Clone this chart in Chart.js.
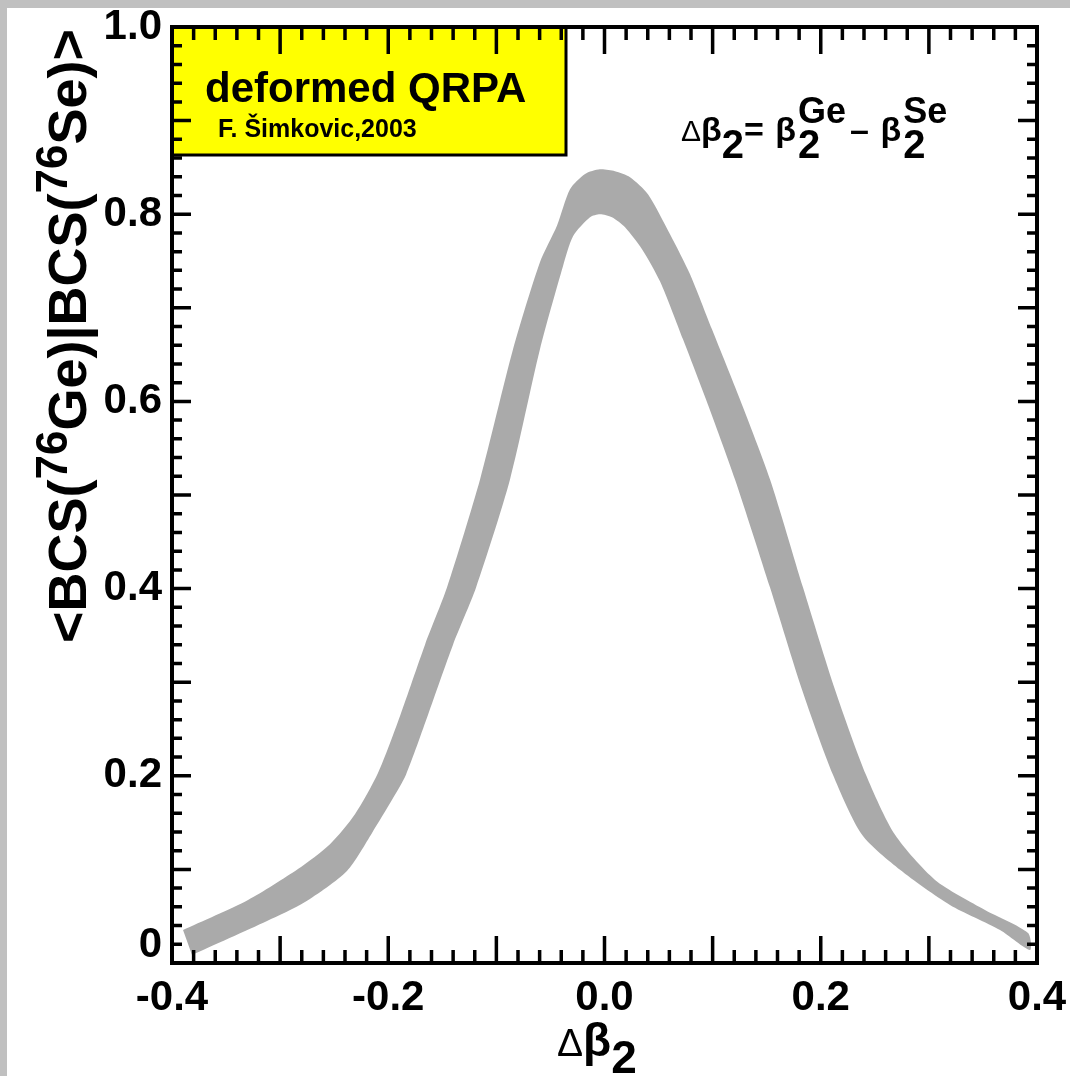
<!DOCTYPE html>
<html><head><meta charset="utf-8">
<script src="https://cdn.jsdelivr.net/npm/chart.js@4/dist/chart.umd.min.js"></script>
<style>html,body{margin:0;padding:0;background:#fff;overflow:hidden}</style>
</head><body>
<canvas id="c" width="1070" height="1076"></canvas>
<script>
// ---- data ----
// outer (upper) edge of the band, left -> right
const outerX = [-0.3898,-0.3297,-0.2835,-0.2539,-0.2308,-0.2095,-0.1891,-0.1660,-0.1457,-0.1151,-0.0846,-0.0597,-0.0439,-0.0319,-0.0180,-0.0042,0.0097,0.0236,0.0402,0.0606,0.0791,0.0994,0.1253,0.1531,0.1836,0.2132,0.2418,0.2687,0.3057,0.3519,0.3917];
const outerY = [0.0353,0.0674,0.1005,0.1270,0.1590,0.2030,0.2640,0.3401,0.4011,0.5166,0.6556,0.7487,0.7880,0.8267,0.8430,0.8480,0.8460,0.8396,0.8214,0.7786,0.7358,0.6770,0.6021,0.5166,0.4011,0.2920,0.2011,0.1369,0.0888,0.0567,0.0321];
// inner (lower) edge of the band, left -> right
const innerX = [-0.3815,-0.3121,-0.2770,-0.2382,-0.2150,-0.1965,-0.1836,-0.1632,-0.1401,-0.1188,-0.0874,-0.0597,-0.0384,-0.0291,-0.0134,-0.0042,0.0069,0.0190,0.0347,0.0513,0.0726,0.0939,0.1207,0.1531,0.1827,0.2113,0.2382,0.2733,0.3195,0.3658,0.3935];
const innerY = [0.0086,0.0449,0.0652,0.0984,0.1390,0.1743,0.2011,0.2652,0.3401,0.4011,0.5166,0.6556,0.7444,0.7765,0.7968,0.8000,0.7968,0.7861,0.7626,0.7283,0.6663,0.6021,0.5166,0.4011,0.2920,0.2011,0.1369,0.0995,0.0620,0.0353,0.0139];
const xTickValues = [-0.4,-0.2,0.0,0.2,0.4];
const xTickLabels = ['-0.4','-0.2','0.0','0.2','0.4'];
const yTickValues = [0,0.2,0.4,0.6,0.8,1.0];
const yTickLabels = ['0','0.2','0.4','0.6','0.8','1.0'];

// closed band outline: outer edge left->right, inner edge right->left
const band = [];
outerX.forEach((x,i)=>band.push({x:x,y:outerY[i]}));
for(let i=innerX.length-1;i>=0;i--) band.push({x:innerX[i],y:innerY[i]});

const F = '"Liberation Sans", Arial, sans-serif';

function drawRuns(ctx, x, y, items){
  for(const it of items){
    if(it.stack){
      ctx.font = it.subFont; const w1 = ctx.measureText(it.sub).width; ctx.fillText(it.sub, x, y+it.subDy);
      ctx.font = it.supFont; const w2 = ctx.measureText(it.sup).width; ctx.fillText(it.sup, x, y+it.supDy);
      x += Math.max(w1,w2);
    } else {
      ctx.font = it.font; ctx.fillText(it.t, x, y+(it.dy||0)); x += ctx.measureText(it.t).width;
    }
    x += (it.gap||0);
  }
  return x;
}
function runsWidth(ctx, items){
  let w=0;
  for(const it of items){ ctx.font = it.font; w += ctx.measureText(it.t).width; }
  return w;
}

const decor = {
  id:'decor',
  beforeDraw(chart){
    const ctx = chart.ctx;
    ctx.save();
    ctx.fillStyle='#ffffff'; ctx.fillRect(0,0,chart.width,chart.height);
    ctx.fillStyle='#c0c0c0'; ctx.fillRect(0,0,chart.width,8); ctx.fillRect(0,0,7,chart.height);
    ctx.restore();
  },
  beforeDatasetsDraw(chart){
    const ctx = chart.ctx, a = chart.chartArea;
    ctx.save();
    ctx.fillStyle='#ffff00';
    ctx.fillRect(a.left, a.top, 566-a.left, 155-a.top);
    ctx.restore();
  },
  afterDatasetsDraw(chart){
    const ctx = chart.ctx, a = chart.chartArea;
    const xs = chart.scales.x, ys = chart.scales.y;
    ctx.save();
    ctx.strokeStyle='#000'; ctx.lineCap='butt';
    ctx.lineWidth=3;
    ctx.strokeRect(a.left, a.top, 566-a.left, 155-a.top);
    ctx.lineWidth=3.5;
    ctx.beginPath();
    for(let k=-20;k<=20;k++){
      const px=xs.getPixelForValue(k/50);
      const L = (k%5===0)?27:13;
      ctx.moveTo(px,a.bottom); ctx.lineTo(px,a.bottom-L);
      ctx.moveTo(px,a.top); ctx.lineTo(px,a.top+L);
    }
    for(let k=0;k<=50;k++){
      const py=ys.getPixelForValue(k/50);
      const L = (k%5===0)?19:10;
      ctx.moveTo(a.left,py); ctx.lineTo(a.left+L,py);
      ctx.moveTo(a.right,py); ctx.lineTo(a.right-L,py);
    }
    ctx.stroke();
    ctx.lineWidth=4;
    ctx.strokeRect(a.left, a.top, a.right-a.left, a.bottom-a.top);

    ctx.fillStyle='#000'; ctx.textBaseline='alphabetic'; ctx.textAlign='left';
    ctx.font='bold 42px '+F; ctx.fillText('deformed QRPA', 205, 102);
    ctx.font='bold 25px '+F; ctx.fillText('F. Šimkovic,2003', 218, 137);

    // Δβ2 = β2^Ge – β2^Se
    const B = 'bold 34px '+F, S2 = 'bold 40px '+F, SU = 'bold 36px '+F;
    drawRuns(ctx, 681, 141, [
      {t:'Δ', font:'30px '+F},
      {t:'β', font:B},
      {t:'2', font:S2, dy:17},
      {t:'= ', font:B, gap:2},
      {t:'β', font:B, gap:2},
      {stack:true, sub:'2', subFont:S2, subDy:17, sup:'Ge', supFont:SU, supDy:-18, gap:4},
      {t:'– ', font:B, gap:2},
      {t:'β', font:B, gap:2},
      {stack:true, sub:'2', subFont:S2, subDy:17, sup:'Se', supFont:SU, supDy:-18}
    ]);

    // x axis title
    drawRuns(ctx, 557, 1056, [
      {t:'Δ', font:'39px '+F},
      {t:'β', font:'bold 46px '+F},
      {t:'2', font:'bold 46px '+F, dy:17}
    ]);

    // y axis title (rotated)
    const yt = [
      {t:'<BCS(', font:'bold 54px '+F},
      {t:'76', font:'bold 44px '+F, dy:-19},
      {t:'Ge)|BCS(', font:'bold 54px '+F},
      {t:'76', font:'bold 44px '+F, dy:-19},
      {t:'Se)>', font:'bold 54px '+F}
    ];
    const w = runsWidth(ctx, yt);
    ctx.translate(86, 336 + w/2);
    ctx.rotate(-Math.PI/2);
    drawRuns(ctx, 0, 0, yt);
    ctx.restore();
  }
};

new Chart(document.getElementById('c'), {
  type:'scatter',
  data:{datasets:[{
    data: band, showLine:true, fill:'shape',
    backgroundColor:'#aaaaaa', borderColor:'rgba(0,0,0,0)', borderWidth:0,
    pointRadius:0, pointHoverRadius:0, tension:0.25
  }]},
  options:{
    responsive:false, animation:false, devicePixelRatio:1,
    layout:{padding:{top:27,right:33,left:0,bottom:0}},
    plugins:{legend:{display:false}, tooltip:{enabled:false}},
    events:[],
    scales:{
      x:{type:'linear', min:-0.4, max:0.4,
        grid:{display:false, drawTicks:false}, border:{display:false},
        afterBuildTicks(s){ s.ticks = xTickValues.map(v=>({value:v})); },
        afterFit(s){ s.height = 113; s.paddingLeft = 0; s.paddingRight = 0; },
        ticks:{autoSkip:false, maxRotation:0, padding:10, color:'#000',
          font:{family:F, size:42, weight:'bold'},
          callback:(v,i)=>xTickLabels[i]}
      },
      y:{type:'linear', min:0, max:1,
        grid:{display:false, drawTicks:false}, border:{display:false},
        afterBuildTicks(s){ s.ticks = yTickValues.map(v=>({value:v})); },
        afterFit(s){ s.width = 172; s.paddingTop = 0; s.paddingBottom = 0; },
        ticks:{autoSkip:false, padding:10, color:'#000',
          font:{family:F, size:42, weight:'bold', lineHeight:'36px'},
          callback:(v,i)=> i===0 ? [yTickLabels[i], ''] : yTickLabels[i]}
      }
    }
  },
  plugins:[decor]
});
</script>
